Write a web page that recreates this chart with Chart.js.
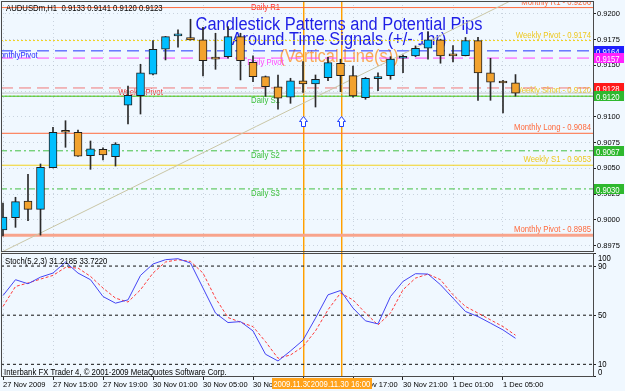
<!DOCTYPE html>
<html lang="en">
<head>
<meta charset="UTF-8">
<title>AUDUSDm,H1</title>
<script src="https://cdnjs.cloudflare.com/ajax/libs/Chart.js/4.4.0/chart.umd.min.js"></script>
<style>
    html, body { margin: 0; padding: 0; background: #F0F8FF; }
    #wrap { width: 625px; height: 391px; }
</style>
</head>
<body>
<div id="wrap"><canvas id="chart" width="625" height="391"></canvas></div>
<script>
const F = '"Liberation Sans", Arial, sans-serif';

// one bar per hour, bar 0 = 27 Nov 2009 11:00
const opens  = [0.89901, 0.90020, 0.90183, 0.90102, 0.90506, 0.90865, 0.90850, 0.90622, 0.90685, 0.90613,
                0.91112, 0.91205, 0.91413, 0.91656, 0.91785, 0.91768, 0.91746, 0.91566, 0.91584, 0.91778,
                0.91529, 0.91390, 0.91292, 0.91190, 0.91348, 0.91319, 0.91380, 0.91520, 0.91399, 0.91186,
                0.91370, 0.91399, 0.91568, 0.91591, 0.91665, 0.91746, 0.91595, 0.91593, 0.91739, 0.91428,
                0.91338, 0.91330];
const highs  = [0.90163, 0.90219, 0.90442, 0.90542, 0.90898, 0.90962, 0.90872, 0.90765, 0.90700, 0.90749,
                0.91299, 0.91510, 0.91739, 0.91780, 0.91843, 0.91947, 0.91869, 0.91811, 0.91875, 0.91811,
                0.91591, 0.91396, 0.91406, 0.91374, 0.91535, 0.91406, 0.91578, 0.91559, 0.91493, 0.91382,
                0.91428, 0.91584, 0.91600, 0.91688, 0.91827, 0.91753, 0.91691, 0.91770, 0.91772, 0.91568,
                0.91355, 0.91410];
const lows   = [0.89843, 0.89927, 0.89991, 0.89852, 0.90503, 0.90704, 0.90615, 0.90490, 0.90581, 0.90522,
                0.90930, 0.91027, 0.91406, 0.91552, 0.91675, 0.91745, 0.91396, 0.91461, 0.91568, 0.91358,
                0.91341, 0.91199, 0.91073, 0.91131, 0.91236, 0.91095, 0.91351, 0.91244, 0.91190, 0.91170,
                0.91254, 0.91364, 0.91428, 0.91584, 0.91559, 0.91520, 0.91532, 0.91591, 0.91160, 0.91160,
                0.91037, 0.91200];
const closes = [0.90027, 0.90176, 0.90102, 0.90510, 0.90850, 0.90850, 0.90617, 0.90688, 0.90629, 0.90736,
                0.91209, 0.91428, 0.91656, 0.91778, 0.91787, 0.91746, 0.91545, 0.91560, 0.91778, 0.91545,
                0.91390, 0.91292, 0.91180, 0.91348, 0.91319, 0.91364, 0.91526, 0.91399, 0.91202, 0.91374,
                0.91390, 0.91561, 0.91570, 0.91665, 0.91746, 0.91591, 0.91591, 0.91741, 0.91425, 0.91335,
                0.91328, 0.91230];

const stochMain   = [66.0, 78.9, 75.6, 81.0, 84.3, 93.3, 84.3, 78.9, 65.2, 59.8,
                     62.5, 82.4, 91.7, 95.2, 96.0, 92.5, 72.1, 51.7, 44.0, 44.8,
                     37.2, 18.2, 12.7, 20.9, 29.6, 47.6, 66.6, 70.1, 55.8, 45.4,
                     42.9, 65.2, 77.5, 83.8, 83.5, 74.8, 63.9, 53.0, 48.9, 43.5,
                     38.0, 31.2];
const stochSignal = [57.1, 73.4, 76.2, 79.4, 82.4, 88.9, 88.4, 81.6, 72.1, 63.9,
                     60.7, 70.7, 84.3, 93.3, 95.2, 93.8, 84.3, 63.9, 48.1, 44.3,
                     40.7, 28.5, 14.9, 17.6, 24.4, 37.2, 54.4, 68.0, 62.5, 51.7,
                     42.1, 51.7, 70.7, 80.2, 83.5, 78.9, 66.6, 57.1, 51.7, 46.2,
                     40.7, 33.7];

const tickIdx    = [0, 4, 8, 12, 16, 20, 24, 28, 32, 36, 40];
const tickLabels = ['27 Nov 2009', '27 Nov 15:00', '27 Nov 19:00', '30 Nov 01:00', '30 Nov 05:00', '30 Nov 09:00',
                    '30 Nov 13:00', '30 Nov 17:00', '30 Nov 21:00', '1 Dec 01:00', '1 Dec 05:00'];
const priceTicks = [0.8975, 0.9000, 0.9025, 0.9050, 0.9075, 0.9100, 0.9125, 0.9150, 0.9175, 0.9200];
const stochTicks = [0, 10, 50, 90, 100];
const stochLevels = [10, 50, 90];

// horizontal objects on the price chart
const levelPrices = [0.9206, 0.9174, 0.9164, 0.9157, 0.9128, 0.9123, 0.9120, 0.9120, 0.9084, 0.9067, 0.9053, 0.9030, 0.8985];
const rightTags      = ['Monthly R1 - 0.9206', 'Weekly Pivot - 0.9174', 'Weekly Short - 0.9120',
                        'Monthly Long - 0.9084', 'Weekly S1 - 0.9053', 'Monthly Pivot - 0.8985'];
const rightTagPrices = [0.9206, 0.9174, 0.9120, 0.9084, 0.9053, 0.8985];
const pivotNames  = ['Daily R1', 'MonthlyPivot', 'Daily Pivot', 'Weekly Pivot', 'Daily S1', 'Daily S2', 'Daily S3'];
const pivotPrices = [0.9210, 0.9164, 0.9157, 0.9128, 0.9120, 0.9067, 0.9030];
const pivotIdx    = [21, 1, 21, 11, 21, 21, 21];
const axisTagPrices = [0.9164, 0.9157, 0.9128, 0.9120, 0.9067, 0.9030];

const signalIdx   = [24, 27];
const signalTimes = ['2009.11.30 13:00', '2009.11.30 16:00'];
const arrowPrice  = 0.9095;
const trendIdx    = [-0.2, 41];
const trendPrice  = [0.89681, 0.92149];

// styles
const levelStyle = [
    ['#FF6A3D', 1, []], ['#F2D21E', 1, [2, 2]], ['#2233FF', 1, [12, 6]], ['#FF44FF', 1, [12, 6]],
    ['#F07A7A', 1, [12, 6]], ['#C4C8CC', 1, []], ['#33C033', 1, []], ['#F2D21E', 1, [2, 2]],
    ['#FF6A3D', 1, []], ['#44C044', 1, [6, 3, 2, 3]], ['#F2D21E', 1, []], ['#44C044', 1, [6, 3, 2, 3]],
    ['#F8A48C', 3, []]
];
const rightTagColors = ['#FF6A3D', '#EEC820', '#EEC820', '#FF6A3D', '#EEC820', '#FF6A3D'];
const pivotColors = ['#FF3030', '#2828FF', '#FF44FF', '#F03030', '#3CC03C', '#3CC03C', '#3CC03C'];
const axisTagColors = ['#1E1EFF', '#FF22FF', '#FF1A1A', '#2EB82E', '#2EB82E', '#2EB82E'];

const X_MIN = -0.16, X_MAX = 47.2;

function txt(ctx, s, x, y, size, color, align, sx) {
    ctx.save();
    ctx.font = size + 'px ' + F;
    ctx.fillStyle = color;
    ctx.textAlign = align || 'left';
    ctx.textBaseline = 'alphabetic';
    ctx.translate(x, y);
    ctx.scale(sx || 0.86, 1);
    ctx.fillText(s, 0, 0);
    ctx.restore();
}

const datasets = [];

// level lines (behind candles)
levelPrices.forEach((p, i) => {
    datasets.push({
        type: 'line', yAxisID: 'y', order: 10,
        data: [{ x: X_MIN, y: p }, { x: X_MAX, y: p }],
        borderColor: levelStyle[i][0], borderWidth: levelStyle[i][1], borderDash: levelStyle[i][2],
        pointRadius: 0
    });
});
datasets.push({
    type: 'line', yAxisID: 'y', order: 9,
    data: trendIdx.map((v, i) => ({ x: v, y: trendPrice[i] })),
    borderColor: '#C9C6A6', borderWidth: 1, pointRadius: 0
});

// candles
datasets.push({
    type: 'bar', yAxisID: 'y', order: 2, grouped: false,
    data: opens.map((o, i) => ({ x: i, y: [lows[i], highs[i]] })),
    backgroundColor: '#2a2a2a', barThickness: 1, borderWidth: 0
});
datasets.push({
    type: 'bar', yAxisID: 'y', order: 1, grouped: false,
    data: opens.map((o, i) => ({ x: i, y: [o, closes[i]] })),
    backgroundColor: opens.map((o, i) => closes[i] >= o ? '#00BFFF' : '#F2A22E'),
    borderColor: '#1f1f1f', borderWidth: 1, borderSkipped: false,
    barThickness: 8, minBarLength: 2
});

// stochastic
stochLevels.forEach(v => {
    datasets.push({
        type: 'line', yAxisID: 'y2', order: 5,
        data: [{ x: X_MIN, y: v }, { x: X_MAX, y: v }],
        borderColor: '#111', borderWidth: 1, borderDash: [3, 3], pointRadius: 0
    });
});
datasets.push({
    type: 'line', yAxisID: 'y2', order: 4,
    data: stochSignal.map((v, i) => ({ x: i, y: v })),
    borderColor: '#FF3A3A', borderWidth: 1, borderDash: [3, 2], pointRadius: 0
});
datasets.push({
    type: 'line', yAxisID: 'y2', order: 3,
    data: stochMain.map((v, i) => ({ x: i, y: v })),
    borderColor: '#4444F4', borderWidth: 1, pointRadius: 0
});

const objects = {
    id: 'objects',
    beforeDatasetsDraw(chart) {
        const { ctx, chartArea: ca, scales: { x, y } } = chart;
        ctx.save();
        ctx.beginPath();
        ctx.rect(ca.left, ca.top, ca.right - ca.left, ca.bottom - ca.top);
        ctx.clip();

        // vertical signal lines
        signalIdx.forEach(i => {
            const px = Math.round(x.getPixelForValue(i));
            ctx.fillStyle = '#FFA000';
            ctx.fillRect(px, ca.top, 1, ca.bottom - ca.top);
            ctx.fillStyle = 'rgba(255,160,0,0.45)';
            ctx.fillRect(px + 1, ca.top, 1, ca.bottom - ca.top);
        });

        // titles
        const cx = 339;
        txt(ctx, 'Candlestick Patterns and Potential Pips', cx, 30, 18, '#1E1EE6', 'center', 0.91);
        txt(ctx, 'Around Time Signals (+/- 1hr)', cx, 44.5, 18, '#1E1EE6', 'center', 0.91);
        txt(ctx, '(Vertical Line(s))', cx, 62, 18, 'rgba(255,140,30,0.75)', 'center', 0.91);

        // level texts
        rightTags.forEach((s, i) => {
            txt(ctx, s, 591, y.getPixelForValue(rightTagPrices[i]) - 3, 9, rightTagColors[i], 'right');
        });
        pivotNames.forEach((s, i) => {
            txt(ctx, s, x.getPixelForValue(pivotIdx[i]), y.getPixelForValue(pivotPrices[i]) + 7, 9, pivotColors[i], 'center');
        });

        // arrows
        signalIdx.forEach(i => {
            const ax = Math.round(x.getPixelForValue(i)) + 0.5;
            const ay = Math.round(y.getPixelForValue(arrowPrice)) - 5.5;
            ctx.beginPath();
            ctx.moveTo(ax, ay);
            ctx.lineTo(ax + 4, ay + 5);
            ctx.lineTo(ax + 2, ay + 5);
            ctx.lineTo(ax + 2, ay + 10);
            ctx.lineTo(ax - 2, ay + 10);
            ctx.lineTo(ax - 2, ay + 5);
            ctx.lineTo(ax - 4, ay + 5);
            ctx.closePath();
            ctx.fillStyle = '#fff';
            ctx.fill();
            ctx.strokeStyle = '#2040FF';
            ctx.lineWidth = 1;
            ctx.stroke();
        });
        ctx.restore();
    },
    afterDraw(chart) {
        const { ctx, chartArea: ca, scales: { x, y, y2 } } = chart;
        ctx.save();
        // panel frames
        ctx.strokeStyle = '#4a4a4a';
        ctx.lineWidth = 1;
        const l = Math.round(ca.left) + 0.5, r = Math.round(ca.right) + 0.5;
        ctx.strokeRect(l, Math.round(y.top) + 0.5, r - l, Math.round(y.bottom) - 2 - Math.round(y.top));
        ctx.strokeRect(l, Math.round(y2.top) + 0.5, r - l, Math.round(y2.bottom) - 1 - Math.round(y2.top));

        // stochastic scale labels, kept inside the panel like the terminal does
        stochTicks.forEach(v => {
            const py = Math.min(Math.max(y2.getPixelForValue(v), y2.top + 5), y2.bottom - 5);
            txt(ctx, String(v), 598, py + 3, 9, '#000', 'left');
        });

        // price tags on the axis
        axisTagPrices.forEach((p, i) => {
            const py = Math.round(y.getPixelForValue(p));
            ctx.fillStyle = axisTagColors[i];
            ctx.fillRect(594, py - 5, 30, 10);
            txt(ctx, p.toFixed(4), 596, py + 3.5, 9, '#fff', 'left');
        });

        // time tags under the signal lines
        signalIdx.forEach((i, k) => {
            const px = x.getPixelForValue(i);
            ctx.fillStyle = '#FFA21A';
            ctx.fillRect(Math.round(px - 31), 378, 62, 11);
            txt(ctx, signalTimes[k], px, 387, 9, '#fff', 'center');
        });

        txt(ctx, 'AUDUSDm,H1  0.9133 0.9141 0.9120 0.9123', 6, 11, 9, '#000', 'left');
        txt(ctx, 'Stoch(5,2,3) 31.2185 33.7220', 5, 263.5, 9, '#000', 'left');
        txt(ctx, 'Interbank FX Trader 4, \u00A9 2001-2009 MetaQuotes Software Corp.', 4, 374.5, 9, '#000', 'left');
        ctx.restore();
    }
};

const grid = { color: 'rgba(170,180,195,0.55)', tickColor: '#222', tickLength: 3, offset: false };

new Chart(document.getElementById('chart'), {
    type: 'bar',
    data: { datasets },
    options: {
        responsive: false,
        animation: false,
        events: [],
        layout: { padding: { left: 1, top: 1, right: 0, bottom: 0 }, autoPadding: false },
        plugins: { legend: { display: false }, tooltip: { enabled: false } },
        scales: {
            x: {
                type: 'linear', position: 'bottom', min: X_MIN, max: X_MAX, offset: false,
                afterBuildTicks: s => { s.ticks = tickIdx.map(v => ({ value: v })); },
                afterFit: s => { s.height = 14; s.paddingLeft = 0; s.paddingRight = 0; },
                ticks: {
                    callback: (v, i) => tickLabels[i], align: 'start', maxRotation: 0, autoSkip: false,
                    font: { size: 7.5, family: F }, color: '#000', padding: 0
                },
                grid: grid,
                border: { display: false, dash: [1, 3] }
            },
            y: {
                type: 'linear', position: 'right', stack: 'panels', stackWeight: 252, weight: 0,
                min: 0.89678, max: 0.92124,
                afterBuildTicks: s => { s.ticks = priceTicks.map(v => ({ value: v })); },
                afterFit: s => { s.width = 32; s.paddingTop = 0; s.paddingBottom = 0; },
                ticks: {
                    callback: v => v.toFixed(4), autoSkip: false,
                    font: { size: 7.5, family: F }, color: '#000', padding: 1
                },
                grid: grid,
                border: { display: false, dash: [1, 3] }
            },
            y2: {
                type: 'linear', position: 'right', stack: 'panels', stackWeight: 124, weight: 1,
                min: -0.33, max: 100.65,
                afterBuildTicks: s => { s.ticks = stochTicks.map(v => ({ value: v })); },
                afterFit: s => { s.width = 32; s.paddingTop = 0; s.paddingBottom = 0; },
                ticks: { display: false },
                grid: { drawOnChartArea: false, tickColor: '#222', tickLength: 3 },
                border: { display: false }
            }
        }
    },
    plugins: [objects]
});
</script>
</body>
</html>
